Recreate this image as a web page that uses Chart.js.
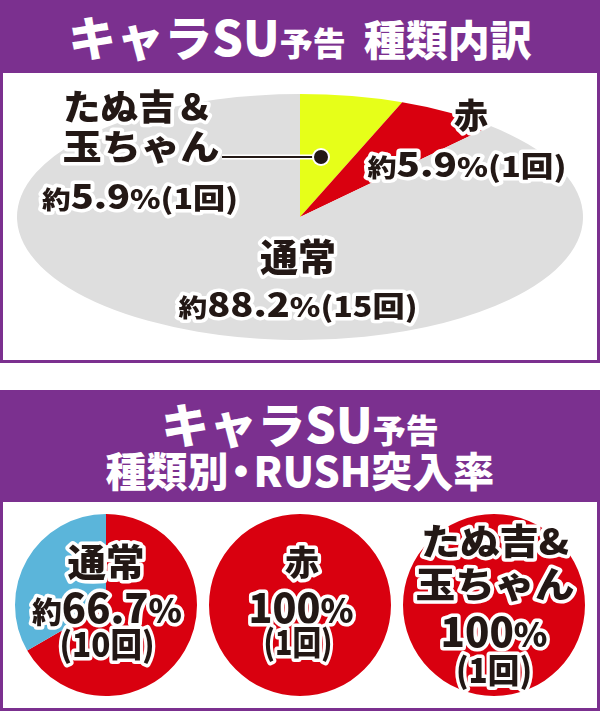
<!DOCTYPE html>
<html lang="ja">
<head>
<meta charset="utf-8">
<script src="https://cdn.jsdelivr.net/npm/chart.js@4"></script>
<style>
  html, body { margin: 0; padding: 0; background: #fff; }
  body { position: relative; width: 600px; height: 711px; overflow: hidden; font-family: "Noto Sans CJK JP", sans-serif; }
  .band { position: absolute; left: 0; width: 600px; background: #7b308f; }
  .panel { position: absolute; left: 0; width: 600px; box-sizing: border-box; border: 3px solid #7b308f; border-top: 0; background: #fff; }
  .ttl { position: absolute; left: 0; width: 600px; text-align: center; color: #fff; font-weight: 900; line-height: 1; white-space: nowrap; }
  .dot { display: inline-block; margin: 0 -8px; }
  canvas { position: absolute; }
</style>
</head>
<body>
<div class="band" style="top:0;height:74px">
  <div class="ttl" style="top:11px"><span style="font-size:48px">キャラSU</span><span style="font-size:33px">予告</span><span style="font-size:42px;margin-left:18px">種類内訳</span></div>
</div>
<div class="panel" style="top:73px;height:290px"></div>
<canvas id="typeChart" width="600" height="286" style="left:0;top:74px"></canvas>

<div class="band" style="top:390px;height:113px">
  <div class="ttl" style="top:8px"><span style="font-size:48px">キャラSU</span><span style="font-size:33px">予告</span></div>
  <div class="ttl" style="top:59px;font-size:41px">種類別<span class="dot">・</span>RUSH突入率</div>
</div>
<div class="panel" style="top:502px;height:209px"></div>
<canvas id="rush0" width="192" height="192" style="left:10px;top:509px"></canvas>
<canvas id="rush1" width="192" height="192" style="left:204px;top:509px"></canvas>
<canvas id="rush2" width="192" height="192" style="left:398px;top:509px"></canvas>

<script>
// キャラSU予告 種類内訳
const typeNames = ["たぬ吉＆\n玉ちゃん", "赤", "通常"];
const typeCounts = [1, 1, 15];
const typePct = ["5.9", "5.9", "88.2"];
const typeColors = ["#e6ff19", "#d9000f", "#dedede"];

// 種類別・RUSH突入率
const rushNames = ["通常", "赤", "たぬ吉&\n玉ちゃん"];
const rushIn = [10, 1, 1];
const rushOut = [5, 0, 0];
const rushPct = ["66.7", "100", "100"];
const rushApprox = [true, false, false];
const rushColors = ["#d9000f", "#5bb5da"];

const FONT = '"Noto Sans CJK JP", "Noto Sans", sans-serif';
const INK = "#231815";

// label placement (page px): [centerX, baseline, fitWidth]
const typeLabelPos = [
  { name: [[138, 120, 150], [141, 160, 157]], pct: [140, 209, 196], size: 35 },
  { name: [[471, 128, 0]], pct: [467, 177, 199], size: 34 },
  { name: [[298, 271, 0]], pct: [298, 317, 239], size: 38 },
];
const rushLabelPos = [
  { name: [[106, 576, 77]], pct: [107, 623, 150], cnt: [107, 657, 95], size: 38 },
  { name: [[302, 575, 0]], pct: [301, 623, 105], cnt: [298, 655, 69], size: 34 },
  { name: [[495, 555, 148], [495, 598, 159]], pct: [494, 647, 107], cnt: [494, 683, 76], size: 36 },
];

function drawRich(ctx, segs, cx, base, width) {
  ctx.save();
  ctx.textAlign = "left";
  ctx.textBaseline = "alphabetic";
  let total = 0;
  const ws = segs.map(([t, s]) => {
    ctx.font = `900 ${s}px ${FONT}`;
    const w = ctx.measureText(t).width;
    total += w;
    return w;
  });
  const k = width ? width / total : 1;
  ctx.translate(cx - (total * k) / 2, base);
  ctx.scale(k, 1);
  ["stroke", "fill"].forEach((pass) => {
    let x = 0;
    segs.forEach(([t, s], i) => {
      ctx.font = `900 ${s}px ${FONT}`;
      if (pass === "stroke") {
        ctx.lineWidth = 7;
        ctx.lineJoin = "round";
        ctx.strokeStyle = "#fff";
        ctx.strokeText(t, x, 0);
      } else {
        ctx.fillStyle = INK;
        ctx.fillText(t, x, 0);
      }
      x += ws[i];
    });
  });
  ctx.restore();
}

// squash the round pie into the flat ellipse
const squashPlugin = {
  id: "squash",
  beforeDatasetsDraw(chart, args, opts) {
    if (!opts.sx) return;
    const arc = chart.getDatasetMeta(0).data[0];
    const ctx = chart.ctx;
    ctx.save();
    ctx.translate(arc.x, arc.y);
    ctx.scale(opts.sx, opts.sy);
    ctx.translate(-arc.x, -arc.y);
  },
  afterDatasetsDraw(chart, args, opts) {
    if (opts.sx) chart.ctx.restore();
  },
};

const labelPlugin = {
  id: "richLabels",
  afterDraw(chart, args, opts) {
    const ctx = chart.ctx;
    ctx.save();
    ctx.translate(-opts.left, -opts.top);
    if (opts.leader) {
      const [x1, x2, y] = opts.leader;
      ctx.strokeStyle = "#fff";
      ctx.lineWidth = 5;
      ctx.beginPath(); ctx.moveTo(x1, y); ctx.lineTo(x2, y); ctx.stroke();
      ctx.strokeStyle = INK;
      ctx.lineWidth = 2;
      ctx.beginPath(); ctx.moveTo(x1, y); ctx.lineTo(x2, y); ctx.stroke();
      ctx.fillStyle = "#fff";
      ctx.beginPath(); ctx.arc(x2 + 3, y, 9, 0, Math.PI * 2); ctx.fill();
      ctx.fillStyle = INK;
      ctx.beginPath(); ctx.arc(x2 + 3, y, 7, 0, Math.PI * 2); ctx.fill();
    }
    opts.lines.forEach((l) => drawRich(ctx, l.segs, l.x, l.y, l.w));
    ctx.restore();
  },
};

Chart.register(squashPlugin, labelPlugin);

const baseOptions = {
  responsive: false,
  animation: false,
  events: [],
  plugins: { legend: { display: false }, tooltip: { enabled: false } },
};

// ---- top: type breakdown ----
const typeLines = [];
typeNames.forEach((name, i) => {
  const pos = typeLabelPos[i];
  name.split("\n").forEach((part, j) => {
    const [x, y, w] = pos.name[j];
    typeLines.push({ segs: [[part, pos.size]], x, y, w });
  });
  const [x, y, w] = pos.pct;
  typeLines.push({
    segs: [["約", 25], [typePct[i], 33], ["%", 27], ["(" + typeCounts[i] + "回)", 28]],
    x, y, w,
  });
});

new Chart(document.getElementById("typeChart"), {
  type: "pie",
  data: {
    labels: typeNames,
    datasets: [{ data: typeCounts, backgroundColor: typeColors, borderWidth: 0 }],
  },
  options: {
    ...baseOptions,
    layout: { padding: 0 },
    plugins: {
      ...baseOptions.plugins,
      squash: { sx: 283 / 143, sy: 123 / 143 },
      richLabels: { left: 0, top: 74, leader: [222, 318, 157], lines: typeLines },
    },
  },
});

// ---- bottom: RUSH rate per type ----
rushNames.forEach((name, i) => {
  const canvas = document.getElementById("rush" + i);
  const pos = rushLabelPos[i];
  const lines = name.split("\n").map((part, j) => {
    const [x, y, w] = pos.name[j];
    return { segs: [[part, pos.size]], x, y, w };
  });
  const pctSegs = rushApprox[i] ? [["約", 30], [rushPct[i], 40], ["%", 34]] : [[rushPct[i], 40], ["%", 34]];
  lines.push({ segs: pctSegs, x: pos.pct[0], y: pos.pct[1], w: pos.pct[2] });
  lines.push({ segs: [["(" + rushIn[i] + "回)", 34]], x: pos.cnt[0], y: pos.cnt[1], w: pos.cnt[2] });

  new Chart(canvas, {
    type: "pie",
    data: {
      labels: ["RUSH突入", "非突入"],
      datasets: [{ data: [rushIn[i], rushOut[i]], backgroundColor: rushColors, borderWidth: 0 }],
    },
    options: {
      ...baseOptions,
      layout: { padding: 5 },
      plugins: {
        ...baseOptions.plugins,
        richLabels: { left: parseInt(canvas.style.left), top: parseInt(canvas.style.top), lines },
      },
    },
  });
});
</script>
</body>
</html>
